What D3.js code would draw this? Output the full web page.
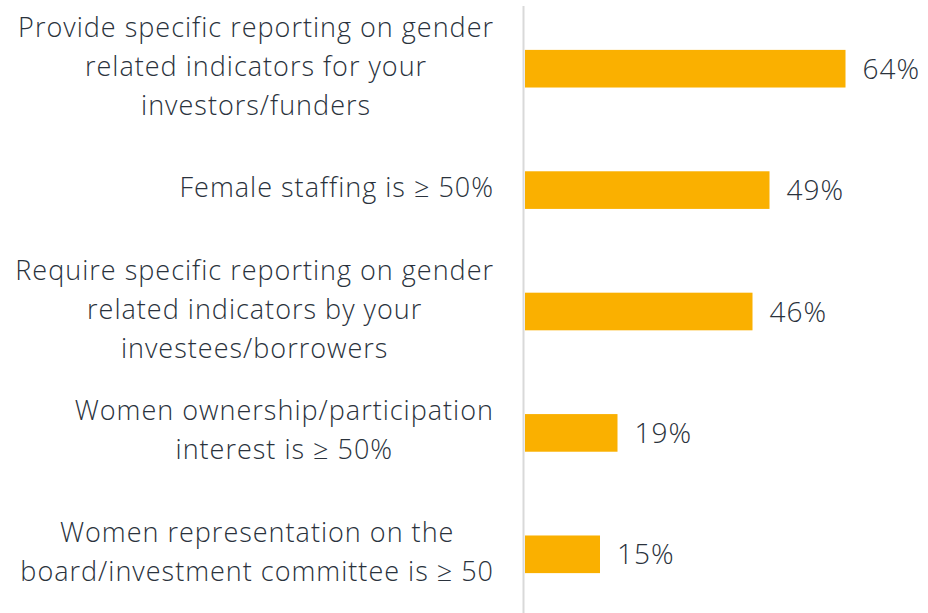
<!DOCTYPE html>
<html>
<head>
<meta charset="utf-8">
<script src="https://cdn.jsdelivr.net/npm/d3@7"></script>
<style>
  body { margin: 0; background: #fff; }
  svg text { font-family: "Open Sans", Lato, sans-serif; font-weight: 300; fill: #2a323c; letter-spacing: 1px; }
</style>
</head>
<body>
<script>
// categories, one line per wrapped row of the label
var categories = [
    ["Provide specific reporting on gender", "related indicators for your", "investors/funders"],
    ["Female staffing is \u2265 50%"],
    ["Require specific reporting on gender", "related indicators by your", "investees/borrowers"],
    ["Women ownership/participation", "interest is \u2265 50%"],
    ["Women representation on the", "board/investment committee is \u2265 50"]
];
// share of respondents (%)
var values = [64.1, 48.9, 45.5, 18.5, 15.0];
var valueLabels = ["64%", "49%", "46%", "19%", "15%"];

var width = 928,
    height = 613;

var svg = d3.select("body")
    .append("svg")
    .attr("width", width)
    .attr("height", height);

var x = d3.scaleLinear()
    .domain([0, 80])
    .range([525, 925]);

var y = d3.scaleBand()
    .domain(d3.range(values.length))
    .range([8, 615])
    .paddingInner(0.69)
    .paddingOuter(0.345);

var lineH = 39,
    labelRight = 494;

//bars
svg.selectAll(".bar")
    .data(values)
    .enter()
    .append("rect")
    .attr("class", "bar")
    .attr("x", x(0))
    .attr("y", function(d, i){ return y(i); })
    .attr("width", function(d){ return x(d) - x(0); })
    .attr("height", y.bandwidth())
    .attr("fill", "#fab000");

//vertical axis line
svg.append("line")
    .attr("x1", x(0) - 1.5)
    .attr("x2", x(0) - 1.5)
    .attr("y1", 6)
    .attr("y2", height)
    .attr("stroke", "#d9d9d9")
    .attr("stroke-width", 2);

//value labels
svg.selectAll(".val")
    .data(values)
    .enter()
    .append("text")
    .attr("class", "val")
    .attr("x", function(d){ return x(d) + 17; })
    .attr("y", function(d, i){ return y(i) + y.bandwidth() / 2 + 10; })
    .style("font-size", "28px")
    .text(function(d, i){ return valueLabels[i]; });

//category labels: lines centred on each other, block right-aligned to the axis gap
var labels = svg.selectAll(".cat")
    .data(categories)
    .enter()
    .append("text")
    .attr("class", "cat")
    .attr("text-anchor", "middle")
    .style("font-size", "27px");

labels.each(function(lines, i){
    var cy = y(i) + y.bandwidth() / 2 + 7;
    var top = cy - (lines.length - 1) * lineH / 2;
    var t = d3.select(this);
    var spans = lines.map(function(l, j){
        return t.append("tspan")
            .attr("y", top + j * lineH)
            .text(l);
    });
    var w = d3.max(spans, function(s){ return s.node().getComputedTextLength(); });
    spans.forEach(function(s){ s.attr("x", labelRight - w / 2); });
});
</script>
</body>
</html>
